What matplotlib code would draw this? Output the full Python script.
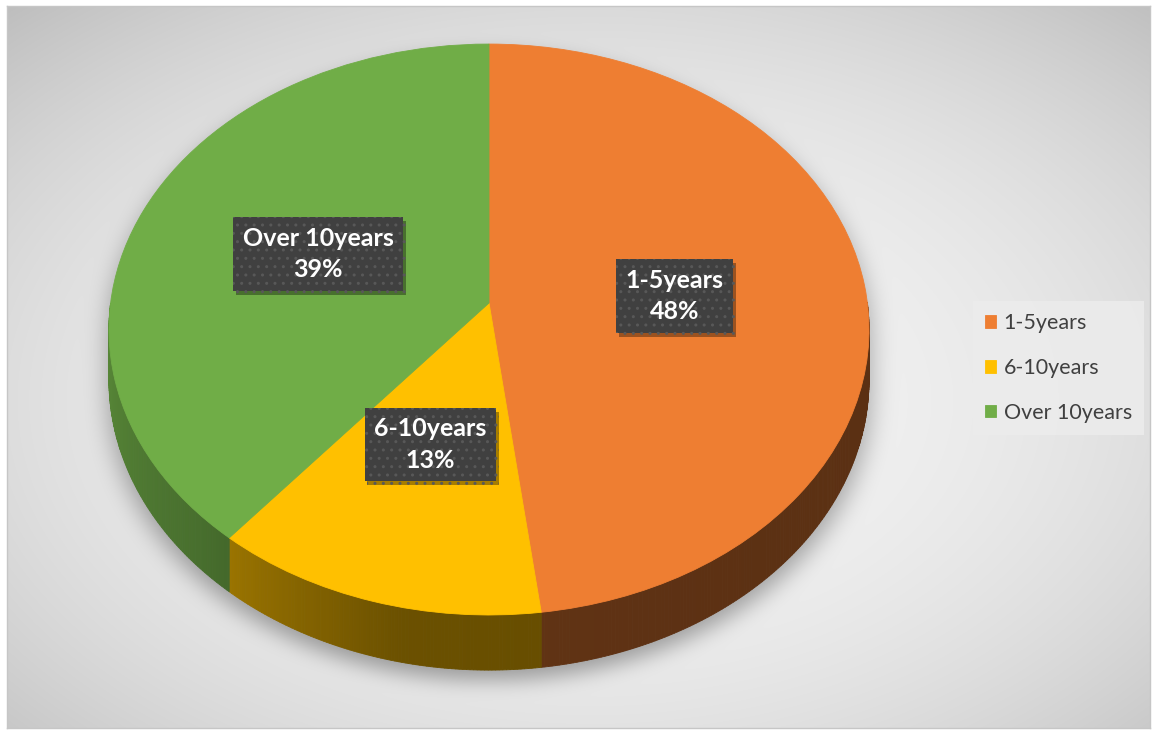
import numpy as np
import matplotlib
matplotlib.use("Agg")
import matplotlib.pyplot as plt
from matplotlib.patches import Polygon
from matplotlib import patheffects as pe
from matplotlib import transforms as mtransforms
from matplotlib.colors import to_rgb

# ---- data ----
categories = ["1-5years", "6-10years", "Over 10years"]
values = [48, 13, 39]
colors = ["#EE7E32", "#FFC000", "#70AD47"]
# data-label anchors (projected chart units)
label_pos = [(0.49, 0.025), (-0.155, -0.50), (-0.452, 0.173)]

# ---- geometry (pixels) ----
W, H = 1153, 730
CX, VY = 489, 303          # pie centre (px from left / top)
SX, SY = 378.4, 283.0      # projected scale px per unit
K = 0.0929                 # perspective strength
DEPTH = 50.0               # side-wall depth (px, before perspective)

plt.rcParams['font.family'] = ['Lato', 'DejaVu Sans']


class Persp(mtransforms.Transform):
    input_dims = output_dims = 2
    is_separable = False
    has_inverse = True

    def __init__(self, k, inverse=False):
        super().__init__()
        self.k = k
        self.inv = inverse

    def transform_non_affine(self, v):
        v = np.asarray(v, float)
        x, y = v[:, 0], v[:, 1]
        if not self.inv:
            den = 1 + self.k * y
        else:
            den = 1 - self.k * y
        return np.column_stack([x / den, y / den])

    def inverted(self):
        return Persp(self.k, not self.inv)


persp = Persp(K)

fig = plt.figure(figsize=(W / 100, H / 100), dpi=100)
fig.patch.set_facecolor("white")

# ---- background with radial gradient and soft shadow ----
bx0, by0, bx1, by1 = 7, 6, 1150, 728
bw, bh = bx1 - bx0, by1 - by0
yy, xx = np.mgrid[by0:by1, bx0:bx1].astype(float)
d = np.sqrt(((xx - 590) / (W / 2)) ** 2 + ((yy - 400) / (H / 2)) ** 2) / np.sqrt(2)
bgv = 0.955 - 0.19 * np.clip(d, 0, 1.2) ** 2.3


def blur1d(a, r, axis):
    a = np.moveaxis(a, axis, -1)
    p = np.pad(a, [(0, 0)] * (a.ndim - 1) + [(r + 1, r)], mode='edge')
    c = np.cumsum(p, axis=-1)
    out = (c[..., 2 * r + 1:] - c[..., :-2 * r - 1]) / (2 * r + 1)
    return np.moveaxis(out, -1, axis)


def disk_mask(dy_px):
    PX = (xx - CX) / SX
    PY = (VY + dy_px - yy) / SY
    den = 1 - K * PY
    x3, y3 = PX / den, PY / den
    return x3 ** 2 + y3 ** 2 <= 1


off = 10
mask = np.zeros_like(xx, dtype=bool)
for dyp in np.linspace(0, DEPTH * 1.1, 12):
    mask |= disk_mask(dyp + off)
sh = mask.astype(float)
for _ in range(3):
    sh = blur1d(sh, 9, 0)
    sh = blur1d(sh, 12, 1)
val = np.clip(bgv - 0.30 * sh, 0, 1)
img = np.dstack([val, val, val])

bg = fig.add_axes([bx0 / W, (H - by1) / H, bw / W, bh / H])
bg.imshow(img, aspect='auto', interpolation='bilinear')
bg.set_xticks([]); bg.set_yticks([])
for s in bg.spines.values():
    s.set_color("#c6c6c6"); s.set_linewidth(1)

# ---- pie axes (projected coordinates) ----
ax = fig.add_axes([0, 0, 1, 1])
ax.patch.set_alpha(0)

wedges, _ = ax.pie(values, colors=colors, startangle=90, counterclock=False,
                   radius=1, wedgeprops=dict(linewidth=0.6), normalize=True)
ax.set_aspect('auto')
ax.set_xlim(-CX / SX, (W - CX) / SX)
ax.set_ylim(-(H - VY) / SY, VY / SY)
ax.axis('off')
for w_, c in zip(wedges, colors):
    w_.set_edgecolor(c)
    w_.set_zorder(5)
    w_.set_transform(persp + ax.transData)

# side walls
fr = np.array(values, float) / np.sum(values)
cum = np.concatenate([[0], np.cumsum(fr)])


def shade(phi):
    return np.interp(phi, [180, 225, 258, 300, 360], [0.80, 0.64, 0.42, 0.39, 0.38])


for i, c in enumerate(colors):
    a_start = 90 - 360 * cum[i]
    a_end = 90 - 360 * cum[i + 1]
    angs = np.append(np.arange(a_end, a_start, 0.5), a_start)
    rgb = np.array(to_rgb(c))
    for a1, a2 in zip(angs[:-1], angs[1:]):
        m = ((a1 + a2) / 2) % 360
        if m < 180:
            continue
        r = np.radians([a1, a2])
        top3 = np.column_stack([np.cos(r), np.sin(r)])
        top = persp.transform(top3)
        drop = (DEPTH / SY) / (1 + K * top3[:, 1])
        bot = top - np.column_stack([np.zeros(2), drop])
        pts = np.vstack([top, bot[::-1]])
        col = np.clip(rgb * shade(m), 0, 1)
        ax.add_patch(Polygon(pts, closed=True, facecolor=col, edgecolor=col,
                             linewidth=0.6, zorder=3))

# data labels
for cat, v, (lx, ly) in zip(categories, values, label_pos):
    pct = round(100 * v / sum(values))
    t = ax.text(lx, ly, f"{cat}\n{pct}%", ha='center', va='center', color='white',
                fontsize=18, fontweight='bold', linespacing=1.45, zorder=10,
                bbox=dict(boxstyle='square,pad=0.38', facecolor='#404040',
                          edgecolor='#585858', hatch='..', linewidth=0))
    t.get_bbox_patch().set_path_effects([
        pe.SimplePatchShadow(offset=(2, -3), shadow_rgbFace='black', alpha=0.35),
        pe.Normal()])

# legend
leg = fig.legend(wedges, categories, loc='center left',
                 bbox_to_anchor=(973 / W, (H - 368) / H),
                 frameon=True, fontsize=15.5, labelcolor='#404040',
                 handlelength=0.52, handleheight=0.52, handletextpad=0.35,
                 labelspacing=1.15, borderpad=0.55, borderaxespad=0,
                 fancybox=False)
leg.get_frame().set_facecolor('#ececec')
leg.get_frame().set_edgecolor('none')
leg.get_frame().set_alpha(0.85)

fig.savefig("out.png", dpi=100, facecolor=fig.get_facecolor())
